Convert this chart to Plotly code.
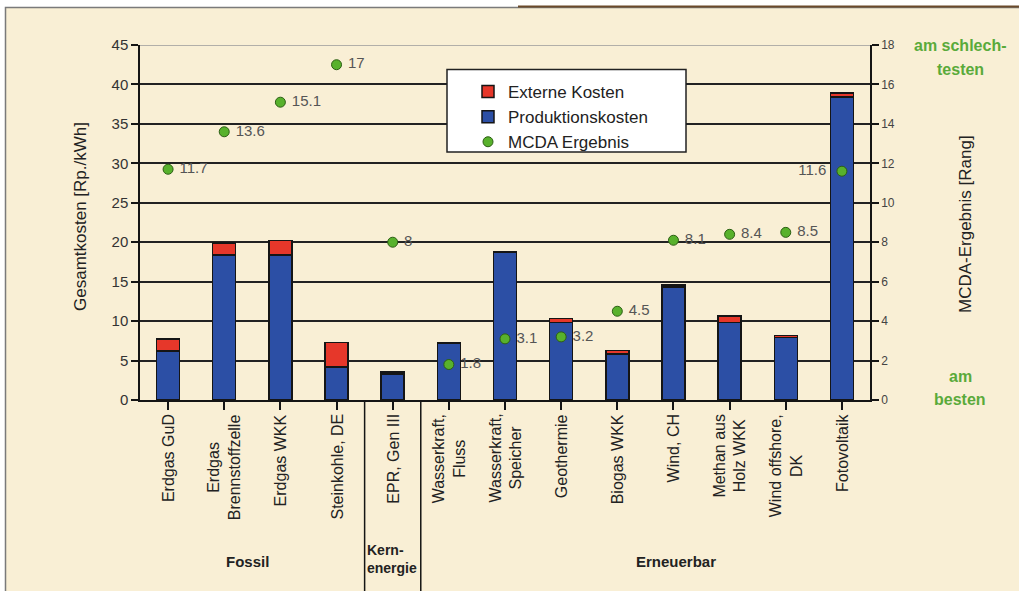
import plotly.graph_objects as go

# ---------------- data ----------------
categories = ["Erdgas GuD", "Erdgas<br>Brennstoffzelle", "Erdgas WKK", "Steinkohle, DE",
              "EPR, Gen III", "Wasserkraft,<br>Fluss", "Wasserkraft,<br>Speicher", "Geothermie",
              "Biogas WKK", "Wind, CH", "Methan aus<br>Holz WKK", "Wind offshore,<br>DK", "Fotovoltaik"]
produktionskosten = [6.2, 18.4, 18.4, 4.2, 3.3, 7.2, 18.7, 9.8, 5.8, 14.35, 9.85, 7.9, 38.4]
externe_kosten = [1.55, 1.5, 1.8, 3.1, 0.25, 0.1, 0.1, 0.5, 0.45, 0.25, 0.8, 0.25, 0.5]
mcda_ergebnis = [11.7, 13.6, 15.1, 17, 8, 1.8, 3.1, 3.2, 4.5, 8.1, 8.4, 8.5, 11.6]
mcda_labels = ["11.7", "13.6", "15.1", "17", "8", "1.8", "3.1", "3.2", "4.5", "8.1", "8.4", "8.5", "11.6"]
left_ticks = [0, 5, 10, 15, 20, 25, 30, 35, 40, 45]
right_ticks = [0, 2, 4, 6, 8, 10, 12, 14, 16, 18]
groups = ["Fossil", "Kern-<br>energie", "Erneuerbar"]

# ---------------- styling ----------------
BG = "#f9efd5"
BLUE = "#2c4fa5"
RED = "#e6372a"
GREEN = "#58b12c"
FONT = "Liberation Sans, Arial, sans-serif"

x_idx = list(range(len(categories)))

# plot area in pixels: x 140..870, y 45..400
L, R, T, B = 140, 870, 45, 400
W, H = 1019, 591
def px(xp):
    return (xp - L) / (R - L)
def py(yp):
    return (B - yp) / (B - T)

NB = "\u00a0"
textpos = ["middle right"] * len(categories)
textpos[-1] = "middle left"
point_text = [NB + t if p == "middle right" else t + NB + NB for t, p in zip(mcda_labels, textpos)]

fig = go.Figure()
fig.add_trace(go.Bar(x=x_idx, y=produktionskosten, name="Produktionskosten",
                     marker=dict(color=BLUE, line=dict(color="#151515", width=1.5)),
                     legendrank=2))
fig.add_trace(go.Bar(x=x_idx, y=externe_kosten, name="Externe Kosten",
                     marker=dict(color=RED, line=dict(color="#151515", width=1.5)),
                     legendrank=1))
fig.add_trace(go.Scatter(x=x_idx, y=mcda_ergebnis, yaxis="y2", mode="markers+text",
                         name="MCDA Ergebnis", text=point_text, textposition=textpos,
                         textfont=dict(size=15, color="#555555", family=FONT),
                         marker=dict(size=10, color=GREEN, line=dict(color="#2c5e14", width=1)),
                         legendrank=3))

shapes = [
    # beige background with border
    dict(type="rect", xref="paper", yref="paper", x0=px(5.5), x1=px(1040), y0=py(620), y1=py(7.5),
         fillcolor=BG, line=dict(color="#7a7a7a", width=1.5), layer="below"),
    dict(type="line", xref="paper", yref="paper", x0=px(518), x1=px(1019), y0=py(6.5), y1=py(6.5),
         line=dict(color="#6b4a2a", width=2), layer="below"),
    # lighter top grid line
    dict(type="line", xref="paper", yref="y", x0=0, x1=1, y0=45, y1=45,
         line=dict(color="#9a9a9a", width=1.3), layer="above"),
    # group separators
    dict(type="line", xref="x", yref="paper", x0=3.5, x1=3.5, y0=0, y1=py(600),
         line=dict(color="#151515", width=1.5)),
    dict(type="line", xref="x", yref="paper", x0=4.5, x1=4.5, y0=0, y1=py(600),
         line=dict(color="#151515", width=1.5)),
    # legend box
    dict(type="rect", xref="paper", yref="paper", x0=px(447), x1=px(686), y0=py(152), y1=py(69.5),
         fillcolor="white", line=dict(color="#222222", width=1.5), layer="above"),
]

annotations = []
for i, c in enumerate(categories):
    annotations.append(dict(x=i, y=py(412), xref="x", yref="paper", text=c, showarrow=False,
                            textangle=-90, xanchor="center", yanchor="top", align="center",
                            font=dict(size=16, color="#222222", family=FONT)))
# group labels
annotations.append(dict(x=1.41, y=py(561), xref="x", yref="paper", text="<b>%s</b>" % groups[0],
                        showarrow=False, xanchor="center", yanchor="middle",
                        font=dict(size=15, color="#222222", family=FONT)))
annotations.append(dict(x=3.5, y=py(559), xref="x", yref="paper", text="<b>%s</b>" % groups[1],
                        showarrow=False, xanchor="left", yanchor="middle", align="left",
                        font=dict(size=14, color="#222222", family=FONT)))
annotations.append(dict(x=9.05, y=py(561), xref="x", yref="paper", text="<b>%s</b>" % groups[2],
                        showarrow=False, xanchor="center", yanchor="middle",
                        font=dict(size=15, color="#222222", family=FONT)))
# axis titles
annotations.append(dict(x=px(80), y=py(217), xref="paper", yref="paper",
                        text="Gesamtkosten [Rp./kWh]", showarrow=False, textangle=-90,
                        xanchor="center", yanchor="middle",
                        font=dict(size=17, color="#222222", family=FONT)))
annotations.append(dict(x=px(965), y=py(224), xref="paper", yref="paper",
                        text="MCDA-Ergebnis [Rang]", showarrow=False, textangle=-90,
                        xanchor="center", yanchor="middle",
                        font=dict(size=17, color="#222222", family=FONT)))
# right side green notes
for txt, yy in [("am schlech-", 45), ("testen", 69), ("am", 376), ("besten", 399)]:
    annotations.append(dict(x=px(960), y=py(yy), xref="paper", yref="paper",
                            text="<b>%s</b>" % txt, showarrow=False,
                            xanchor="center", yanchor="middle",
                            font=dict(size=16, color="#5aaa3a", family=FONT)))

fig.update_layout(
    width=W, height=H, autosize=False,
    margin=dict(l=L, r=W - R, t=T, b=H - B, pad=0),
    paper_bgcolor="white", plot_bgcolor="rgba(0,0,0,0)",
    font=dict(family=FONT, color="#222222"),
    barmode="stack", bargap=0.59,
    showlegend=True,
    legend=dict(x=px(468), y=py(74), xanchor="left", yanchor="top",
                bgcolor="rgba(0,0,0,0)", borderwidth=0, traceorder="normal",
                font=dict(size=17, color="#222222", family=FONT), tracegroupgap=0),
    xaxis=dict(range=[-0.5, len(categories) - 0.5], tickmode="array", tickvals=x_idx,
               showticklabels=False, ticks="outside", ticklen=8, tickcolor="#151515",
               tickwidth=1.5, showline=True, linecolor="#151515", linewidth=1.5,
               showgrid=False, zeroline=False, fixedrange=True, tickson="boundaries"),
    yaxis=dict(range=[0, 45], tickvals=left_ticks, ticks="outside", ticklen=7,
               tickcolor="#151515", tickwidth=1.5, showline=True, linecolor="#151515",
               linewidth=1.5, showgrid=True, gridcolor="#222222", gridwidth=1.5,
               zeroline=False, tickfont=dict(size=15, color="#333333", family=FONT)),
    yaxis2=dict(range=[0, 18], tickvals=right_ticks, overlaying="y", side="right",
                ticks="outside", ticklen=7, tickcolor="#151515", tickwidth=1.5,
                showline=True, linecolor="#151515", linewidth=1.5, showgrid=False,
                zeroline=False, tickfont=dict(size=12, color="#444444", family=FONT)),
    shapes=shapes, annotations=annotations,
)

fig.write_html("out.html", config={"displayModeBar": False},
               post_script="document.body.style.margin='0px';document.body.style.padding='0px';")
